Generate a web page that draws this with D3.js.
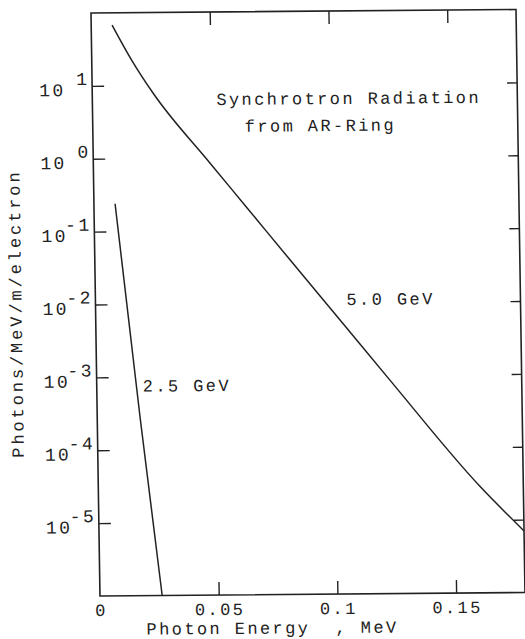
<!DOCTYPE html>
<html>
<head>
<meta charset="utf-8">
<script src="https://cdn.jsdelivr.net/npm/d3@7"></script>
<style>
  html, body { margin: 0; padding: 0; background: #fff; }
  svg { display: block; }
  text { font-family: "Liberation Mono", "DejaVu Sans Mono", monospace; fill: #222; }
</style>
</head>
<body>
<svg id="chart" width="525" height="639"></svg>
<script>
// Photon spectra, photons / MeV / m / electron vs photon energy (MeV)
const energy50 = [0.0088, 0.0168, 0.0256, 0.0491, 0.0644, 0.0822, 0.1028, 0.1235, 0.1607, 0.179];
const flux50   = [68, 22.4, 7.85, 0.85, 0.205, 0.039, 0.0058, 8.5e-4, 2.9e-5, 7.0e-6];
const energy25 = [0.0089, 0.0181, 0.0262];
const flux25   = [0.24, 2.7e-4, 1e-6];

const xTicks = [0.05, 0.1, 0.15];
const xTickLabels = ["0", "0.05", "0.1", "0.15"];
const xLabelValues = [0, 0.05, 0.1, 0.15];
const yExponents = [1, 0, -1, -2, -3, -4, -5];

const title1 = "Synchrotron Radiation";
const title2 = "from AR-Ring";
const xTitle = "Photon Energy  , MeV";
const yTitle = "Photons/MeV/m/electron";

const W = 425, H = 583;
const ink = "#222";

const svg = d3.select("#chart");
// the whole sheet sits slightly skewed on the page
const g = svg.append("g")
  .attr("transform", "matrix(1,-0.0082,0.0154,1,91,13)");

const x = d3.scaleLinear().domain([0, 0.179]).range([0, W]);
const y = d3.scaleLog().domain([1e-6, 1e2]).range([H, 0]);

// frame
g.append("rect")
  .attr("x", 0).attr("y", 0).attr("width", W).attr("height", H)
  .attr("fill", "none").attr("stroke", ink).attr("stroke-width", 1.6);

// bottom and top ticks (inward)
g.append("g").attr("transform", `translate(0,${H})`)
  .call(d3.axisTop(x).tickValues(xTicks).tickSize(13).tickFormat(""))
  .call(a => a.select(".domain").remove())
  .selectAll("line").attr("stroke", ink).attr("stroke-width", 1.4);
g.append("g")
  .call(d3.axisBottom(x).tickValues(xTicks).tickSize(13).tickFormat(""))
  .call(a => a.select(".domain").remove())
  .selectAll("line").attr("stroke", ink).attr("stroke-width", 1.4);

// left and right ticks (inward)
const yTickVals = yExponents.map(e => Math.pow(10, e));
g.append("g")
  .call(d3.axisRight(y).tickValues(yTickVals).tickSize(12).tickFormat(""))
  .call(a => a.select(".domain").remove())
  .selectAll("line").attr("stroke", ink).attr("stroke-width", 1.4);
g.append("g").attr("transform", `translate(${W},0)`)
  .call(d3.axisLeft(y).tickValues(yTickVals).tickSize(10).tickFormat(""))
  .call(a => a.select(".domain").remove())
  .selectAll("line").attr("stroke", ink).attr("stroke-width", 1.4);

const fs = 17, ls = 2.4;

// x tick labels
g.selectAll(".xl").data(xLabelValues).enter().append("text")
  .attr("class", "xl")
  .attr("x", (d) => x(d) + ls / 2)
  .attr("y", H + 20)
  .attr("text-anchor", "middle")
  .attr("font-size", fs).attr("letter-spacing", ls)
  .text((d, i) => xTickLabels[i]);

// y tick labels: "10" with raised exponent
const yl = g.selectAll(".yl").data(yExponents).enter().append("g").attr("class", "yl");
yl.append("text")
  .attr("x", -29 + ls).attr("y", d => y(Math.pow(10, d)) + 10)
  .attr("text-anchor", "end")
  .attr("font-size", 18).attr("letter-spacing", ls)
  .text("10");
yl.append("text")
  .attr("x", -5 + ls).attr("y", d => y(Math.pow(10, d)) - 1)
  .attr("text-anchor", "end")
  .attr("font-size", 18).attr("letter-spacing", ls)
  .text(d => d < 0 ? "-" + Math.abs(d) : String(d));

// curves
const line = d3.line()
  .x(d => x(d[0])).y(d => y(d[1]))
  .curve(d3.curveMonotoneX);
g.append("path")
  .datum(d3.zip(energy50, flux50))
  .attr("d", line).attr("fill", "none").attr("stroke", ink).attr("stroke-width", 1.5);
g.append("path")
  .datum(d3.zip(energy25, flux25))
  .attr("d", line).attr("fill", "none").attr("stroke", ink).attr("stroke-width", 1.5);

// annotations
g.append("text").attr("x", 124).attr("y", 93)
  .attr("font-size", fs).attr("letter-spacing", ls).text(title1);
g.append("text").attr("x", 152).attr("y", 120)
  .attr("font-size", fs).attr("letter-spacing", ls).text(title2);
g.append("text").attr("x", 251).attr("y", 294)
  .attr("font-size", fs).attr("letter-spacing", ls).text("5.0 GeV");
g.append("text").attr("x", 46).attr("y", 379)
  .attr("font-size", fs).attr("letter-spacing", ls).text("2.5 GeV");

// axis titles
g.append("text").attr("x", 46).attr("y", H + 39)
  .attr("font-size", fs).attr("letter-spacing", 2.4)
  .style("white-space", "pre").text(xTitle);
g.append("text")
  .attr("transform", `translate(-74,${300}) rotate(-90)`)
  .attr("text-anchor", "middle")
  .attr("font-size", fs).attr("letter-spacing", 2.9)
  .text(yTitle);
</script>
</body>
</html>
